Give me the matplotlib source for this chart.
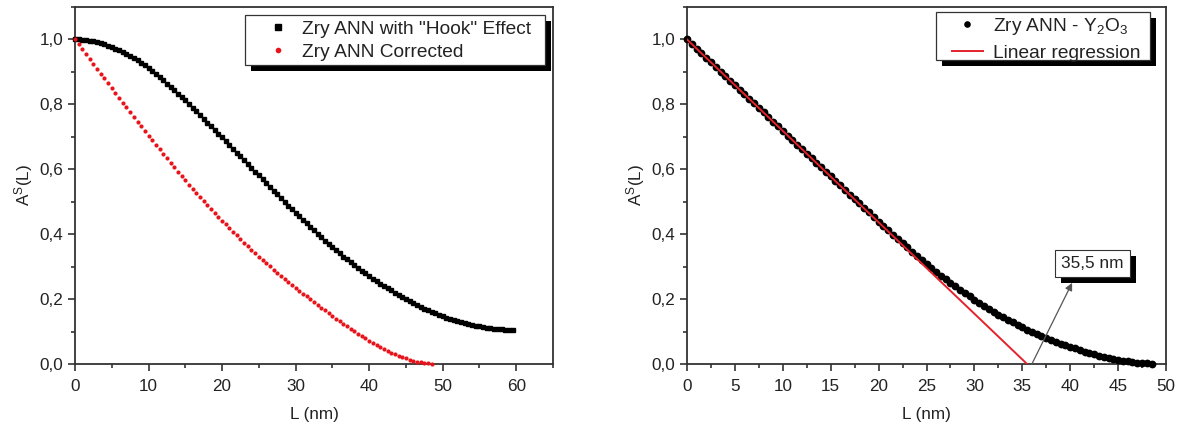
import numpy as np
import matplotlib
matplotlib.use("Agg")
import matplotlib.pyplot as plt
from matplotlib.ticker import MultipleLocator, FuncFormatter
from matplotlib.patches import Rectangle
import matplotlib.transforms as mtransforms

plt.rcParams['font.family'] = ['Liberation Sans', 'DejaVu Sans']
plt.rcParams['mathtext.fontset'] = 'custom'
plt.rcParams['mathtext.rm'] = 'Liberation Sans'
plt.rcParams['mathtext.it'] = 'Liberation Sans'

# ---------------- data ----------------
L_step = 0.5  # nm sampling step of the Fourier coefficients

hook_A = [1.000, 1.000, 0.999, 0.998, 0.996, 0.994, 0.991, 0.988, 0.985, 0.981,
          0.977, 0.972, 0.967, 0.962, 0.956, 0.950, 0.943, 0.936, 0.928, 0.920,
          0.911, 0.902, 0.893, 0.884, 0.874, 0.864, 0.854, 0.844, 0.833, 0.823,
          0.812, 0.801, 0.790, 0.779, 0.767, 0.756, 0.744, 0.733, 0.721, 0.710,
          0.698, 0.687, 0.675, 0.663, 0.651, 0.640, 0.628, 0.616, 0.604, 0.593,
          0.581, 0.569, 0.557, 0.546, 0.534, 0.523, 0.511, 0.500, 0.488, 0.477,
          0.466, 0.455, 0.444, 0.433, 0.422, 0.412, 0.401, 0.391, 0.380, 0.370,
          0.360, 0.350, 0.341, 0.331, 0.322, 0.313, 0.304, 0.296, 0.287, 0.279,
          0.271, 0.263, 0.256, 0.248, 0.241, 0.234, 0.227, 0.220, 0.213, 0.207,
          0.200, 0.194, 0.188, 0.182, 0.176, 0.171, 0.166, 0.161, 0.156, 0.151,
          0.147, 0.143, 0.139, 0.135, 0.132, 0.129, 0.126, 0.123, 0.120, 0.118,
          0.116, 0.114, 0.112, 0.110, 0.109, 0.108, 0.107, 0.106, 0.106, 0.105]

corrected_A = [1.000, 0.985, 0.970, 0.955, 0.940, 0.925, 0.910, 0.895, 0.880, 0.865,
               0.850, 0.835, 0.820, 0.805, 0.791, 0.776, 0.762, 0.747, 0.733, 0.718,
               0.704, 0.690, 0.676, 0.662, 0.648, 0.634, 0.620, 0.606, 0.593, 0.579,
               0.566, 0.553, 0.540, 0.527, 0.515, 0.502, 0.490, 0.478, 0.466, 0.454,
               0.442, 0.430, 0.419, 0.407, 0.396, 0.385, 0.374, 0.363, 0.352, 0.341,
               0.331, 0.321, 0.311, 0.301, 0.291, 0.281, 0.272, 0.262, 0.253, 0.244,
               0.235, 0.226, 0.217, 0.208, 0.199, 0.190, 0.182, 0.173, 0.165, 0.156,
               0.148, 0.140, 0.132, 0.124, 0.116, 0.108, 0.101, 0.093, 0.086, 0.079,
               0.072, 0.065, 0.058, 0.052, 0.046, 0.040, 0.035, 0.030, 0.025, 0.021,
               0.017, 0.013, 0.010, 0.007, 0.005, 0.003, 0.002, 0.000]

y2o3_A = [1.000, 0.986, 0.972, 0.958, 0.944, 0.930, 0.916, 0.901, 0.887, 0.873,
          0.859, 0.845, 0.831, 0.817, 0.803, 0.789, 0.775, 0.761, 0.747, 0.733,
          0.719, 0.704, 0.690, 0.676, 0.662, 0.648, 0.634, 0.620, 0.606, 0.592,
          0.578, 0.564, 0.550, 0.536, 0.522, 0.508, 0.495, 0.481, 0.467, 0.453,
          0.439, 0.425, 0.412, 0.398, 0.385, 0.372, 0.359, 0.346, 0.333, 0.320,
          0.308, 0.296, 0.284, 0.272, 0.261, 0.250, 0.239, 0.228, 0.218, 0.208,
          0.198, 0.188, 0.179, 0.170, 0.161, 0.152, 0.144, 0.136, 0.128, 0.120,
          0.113, 0.106, 0.099, 0.092, 0.086, 0.080, 0.074, 0.068, 0.063, 0.058,
          0.053, 0.048, 0.043, 0.038, 0.034, 0.030, 0.026, 0.022, 0.019, 0.016,
          0.013, 0.010, 0.008, 0.006, 0.004, 0.003, 0.002, 0.001]

reg_intercept = 1.0     # A at L = 0
reg_zero = 35.5         # L where the linear regression reaches 0 (nm)
annot_text = "35,5 nm"

left_labels = ['Zry ANN with "Hook" Effect', 'Zry ANN Corrected']
right_labels = ['Zry ANN - Y$_2$O$_3$', 'Linear regression']

L_hook = np.arange(len(hook_A)) * L_step
L_corr = np.arange(len(corrected_A)) * L_step
L_y2o3 = np.arange(len(y2o3_A)) * L_step

# ---------------- figure ----------------
W, H = 1189, 430
fig = plt.figure(figsize=(W / 100, H / 100), dpi=100)

AX_L = (75, 553, 7, 364)     # pixel box: x0, x1, y_top, y_bottom
AX_R = (687, 1166, 7, 364)

def px_axes(box):
    x0, x1, yt, yb = box
    return fig.add_axes([x0 / W, 1 - yb / H, (x1 - x0) / W, (yb - yt) / H])

axL = px_axes(AX_L)
axR = px_axes(AX_R)

comma = FuncFormatter(lambda v, p: f"{v:.1f}".replace('.', ','))
spine_col = '#333333'
txt_col = '#222222'
FS = 12.3

for ax in (axL, axR):
    for s in ax.spines.values():
        s.set_color(spine_col)
        s.set_linewidth(1.3)
    ax.set_ylim(0, 1.1)
    ax.yaxis.set_major_locator(MultipleLocator(0.2))
    ax.yaxis.set_minor_locator(MultipleLocator(0.1))
    ax.yaxis.set_major_formatter(comma)
    ax.tick_params(which='both', direction='out', top=False, right=False,
                   colors=spine_col, labelcolor=txt_col, labelsize=FS, width=1.2)
    ax.tick_params(which='major', length=5)
    ax.tick_params(which='minor', length=3)
    ax.tick_params(axis='x', which='major', pad=5.5)
    ax.set_xlabel('L (nm)', fontsize=FS, color=txt_col, labelpad=10)
    ax.set_ylabel('A$^{\\mathrm{S}}$(L)', fontsize=FS, color=txt_col, labelpad=3)

# left panel
axL.set_xlim(0, 65)
axL.xaxis.set_major_locator(MultipleLocator(10))
axL.xaxis.set_minor_locator(MultipleLocator(5))
axL.plot(L_hook, hook_A, linestyle='none', marker='s', markersize=2.7,
         color='black', label=left_labels[0], clip_on=False, zorder=3)
axL.plot(L_corr, corrected_A, linestyle='none', marker='o', markersize=3.0,
         color='#e8141b', markeredgewidth=0, label=left_labels[1], clip_on=False, zorder=3)

# right panel
axR.set_xlim(0, 50)
axR.xaxis.set_major_locator(MultipleLocator(5))
axR.xaxis.set_minor_locator(MultipleLocator(2.5))
axR.plot(L_y2o3, y2o3_A, linestyle='none', marker='o', markersize=5.6,
         color='black', markeredgewidth=0, label=right_labels[0], clip_on=False, zorder=3)
reg_x = np.array([0.0, reg_zero])
reg_y = reg_intercept * (1 - reg_x / reg_zero)
axR.plot(reg_x, reg_y, color='#e3232b', linewidth=1.4, label=right_labels[1], zorder=4)

# annotation with arrow
axR.annotate('', xy=(40.2, 0.25), xytext=(36.0, 0.0),
             arrowprops=dict(arrowstyle='-|>', color='#555555', lw=0.9,
                             mutation_scale=11, shrinkA=0, shrinkB=0), zorder=5)
ann = axR.text(42.3, 0.309, annot_text, color=txt_col, fontsize=12.4,
               ha='center', va='center', zorder=7,
               bbox=dict(boxstyle='square,pad=0.36', facecolor='white',
                         edgecolor='#333333', lw=0.8))

# ---------------- legends (Origin-style boxes with black drop shadow) ----------------
LEG_FS = 13.8
def frac(box, px, py):
    x0, x1, yt, yb = box
    return (px - x0) / (x1 - x0), (yb - py) / (yb - yt)

def origin_box(ax, x0, x1, yt, yb, z=8, off=6):
    ident = mtransforms.IdentityTransform()
    ax.add_artist(Rectangle((x0 + off, H - yb - off), x1 - x0, yb - yt, transform=ident,
                            facecolor='black', edgecolor='none', zorder=z, clip_on=False))
    ax.add_artist(Rectangle((x0, H - yb), x1 - x0, yb - yt, transform=ident,
                            facecolor='white', edgecolor='#333333', lw=0.9,
                            zorder=z + 0.1, clip_on=False))

origin_box(axL, 245, 545, 15, 65)
origin_box(axR, 936, 1150, 12, 60)

legL = axL.legend(loc='center left', bbox_to_anchor=frac(AX_L, 268, 40.5), fontsize=LEG_FS,
                  frameon=False, handlelength=1.0, handletextpad=0.8, borderpad=0,
                  labelspacing=0.3, markerscale=1.35, borderaxespad=0)
legR = axR.legend(loc='center left', bbox_to_anchor=frac(AX_R, 952, 39), fontsize=LEG_FS,
                  frameon=False, handlelength=1.6, handletextpad=0.55, borderpad=0,
                  labelspacing=0.38, markerscale=0.85, borderaxespad=0)
for leg in (legL, legR):
    leg.set_zorder(9)
    for t in leg.get_texts():
        t.set_color(txt_col)

# drop shadow behind the annotation box
fig.canvas.draw()
renderer = fig.canvas.get_renderer()
bb = ann.get_bbox_patch().get_window_extent(renderer)
axR.add_artist(Rectangle((bb.x0 + 6, bb.y0 - 6), bb.width, bb.height,
                         transform=mtransforms.IdentityTransform(), facecolor='black',
                         edgecolor='none', zorder=6.5, clip_on=False))

fig.savefig('out.png', dpi=100)
